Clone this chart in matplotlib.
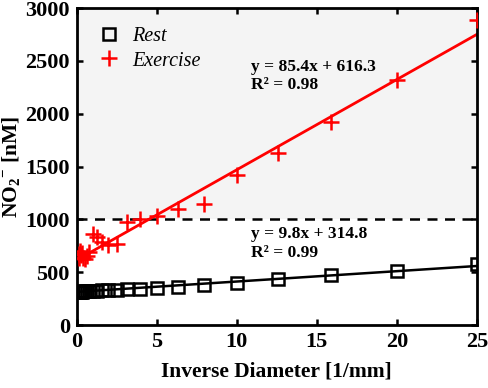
import matplotlib
matplotlib.use("Agg")
import matplotlib.pyplot as plt
import numpy as np

plt.rcParams['font.family'] = ['Liberation Serif', 'DejaVu Serif']
plt.rcParams['mathtext.fontset'] = 'custom'
plt.rcParams['mathtext.rm'] = 'Liberation Serif:bold'
plt.rcParams['mathtext.bf'] = 'Liberation Serif:bold'

# inverse diameter [1/mm]
inv_diam = [25, 20, 15.9, 12.6, 10, 7.94, 6.3, 5, 3.97, 3.15, 2.5, 1.98,
            1.57, 1.25, 0.99, 0.79, 0.63, 0.5, 0.39, 0.31, 0.25, 0.2, 0.16, 0.12]
# NO2- [nM]
exercise = [2890, 2320, 1925, 1630, 1420, 1150, 1095, 1035, 1000, 980, 765, 760,
            785, 830, 860, 690, 650, 625, 640, 680, 660, 700, 640, 670]
rest = [575, 515, 470, 435, 400, 380, 360, 348, 345, 338, 332, 330,
        328, 325, 322, 322, 320, 320, 320, 318, 318, 318, 318, 318]

fit_ex = (85.4, 616.3)
fit_rest = (9.8, 314.8)
threshold = 1000

fig = plt.figure(figsize=(4.89, 3.88), dpi=100)
ax = fig.add_axes([0.157, 0.162, 0.818, 0.817])

ax.axhspan(threshold, 3000, color='#f4f4f4', zorder=0, lw=0)
ax.axhline(threshold, color='black', ls=(0, (4, 3)), lw=1.8, zorder=1)

xf = np.array([0, 25])
ax.plot(xf, fit_rest[0] * xf + fit_rest[1], color='black', lw=1.8, zorder=2)
ax.plot(xf, fit_ex[0] * xf + fit_ex[1], color='#ff0000', lw=2.0, zorder=2)

ax.plot(inv_diam, rest, ls='none', marker='s', ms=8, mfc='none', mec='black',
        mew=1.8, label='Rest', zorder=3)
ax.plot(inv_diam, exercise, ls='none', marker='+', ms=11, mec='#ff0000',
        mew=1.8, label='Exercise', zorder=3)

ax.text(10.9, 2520, 'y = 85.4x + 616.3\nR\u00b2 = 0.98', fontsize=12.5,
        fontweight='bold', va='top', linespacing=1.2)
ax.text(10.9, 935, 'y = 9.8x + 314.8\nR\u00b2 = 0.99', fontsize=12.5,
        fontweight='bold', va='top', linespacing=1.2)

leg = ax.legend(loc='upper left', frameon=False, prop={'style': 'italic', 'size': 14.5},
                handletextpad=0.5, borderaxespad=0.55, labelspacing=0.25,
                handlelength=1.3, borderpad=0.4)

ax.set_xlim(0, 25)
ax.set_ylim(0, 3000)
ax.set_xticks([0, 5, 10, 15, 20, 25])
ax.set_yticks(range(0, 3001, 500))
ax.tick_params(direction='in', top=True, right=True, length=4, width=1.8,
               labelsize=16, pad=5)
for lab in ax.get_xticklabels() + ax.get_yticklabels():
    lab.set_fontweight('bold')
for sp in ax.spines.values():
    sp.set_linewidth(2)

ax.set_xlabel('Inverse Diameter [1/mm]', fontsize=15.5, fontweight='bold', labelpad=7)
ax.set_ylabel(r'NO$_2$$^{-}$ [nM]', fontsize=15.5, fontweight='bold', labelpad=2)

fig.savefig('out.png', dpi=100)
